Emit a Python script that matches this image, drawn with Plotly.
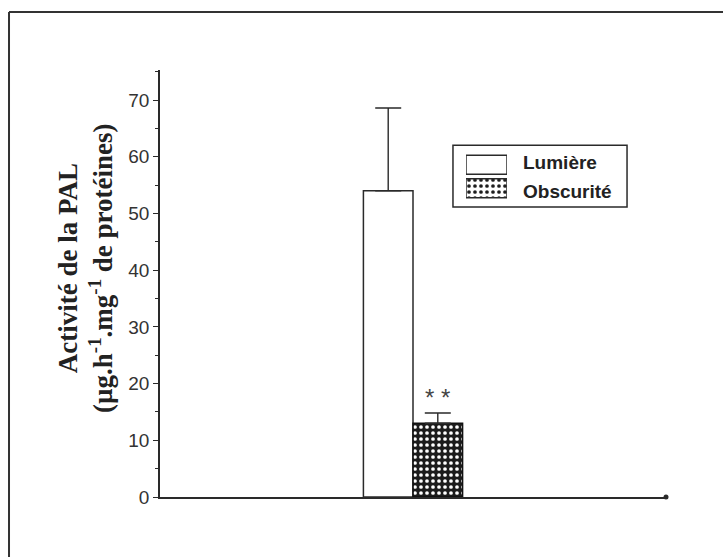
import plotly.graph_objects as go

# --- data -------------------------------------------------------------
groupe = ["PAL"]
series = ["Lumière", "Obscurité"]
activite = [54.0, 13.0]          # µg.h-1.mg-1 de protéines
erreur = [14.6, 1.8]             # écart (barre vers le haut)
signif = ["", "* *"]
y_ticks = [0, 10, 20, 30, 40, 50, 60, 70]

# --- styles -----------------------------------------------------------
INK = "#2a2a2a"
BARGAP = 0.804
SANS = "Liberation Sans, Arial, sans-serif"
SERIF = "Liberation Serif, Times New Roman, serif"
DOTS = dict(shape=".", bgcolor="#1c1c1c", fgcolor="white",
            size=6, solidity=0.3, fillmode="replace")

fig = go.Figure()

fills = [
    dict(color="white", line=dict(color=INK, width=1.5)),
    dict(color="#1c1c1c", line=dict(color="#111", width=1.5), pattern=DOTS),
]

for name, val, err, mk in zip(series, activite, erreur, fills):
    fig.add_trace(go.Bar(
        x=groupe, y=[val], name=name, marker=mk, showlegend=False,
        error_y=dict(type="data", array=[err], arrayminus=[0],
                     symmetric=False, color=INK, thickness=1.4, width=13),
    ))

# significance marks above each bar (group offset derived from bargap)
slot = (1 - BARGAP) / len(series)
for i, (val, err, txt) in enumerate(zip(activite, erreur, signif)):
    if not txt:
        continue
    xc = -(1 - BARGAP) / 2 + slot * (i + 0.5)
    fig.add_annotation(x=xc, y=val + err, xref="x", yref="y", text=txt,
                       showarrow=False, yanchor="bottom", yshift=0,
                       font=dict(family=SANS, size=24, color="#444"))

# legend key swatches in a small inset axis
fig.add_trace(go.Bar(
    x=[1, 1], y=series, orientation="h", width=0.8,
    xaxis="x2", yaxis="y2", showlegend=False, hoverinfo="skip",
    marker=dict(
        color=["white", "#1c1c1c"],
        line=dict(color=INK, width=1.5),
        pattern=dict(shape=["", "."], bgcolor=["white", "#1c1c1c"],
                     fgcolor=["white", "white"], size=6, solidity=0.3,
                     fillmode="replace"),
    ),
))

# legend frame
fig.add_shape(type="rect", xref="paper", yref="paper",
              x0=0.579, x1=0.923, y0=0.679, y1=0.824,
              line=dict(color=INK, width=1.5), fillcolor="rgba(0,0,0,0)")
for name, yp in zip(series, [0.783, 0.715]):
    fig.add_annotation(x=0.713, y=yp, xref="paper", yref="paper", text=name,
                       showarrow=False, xanchor="left", yanchor="middle",
                       font=dict(family=SANS, size=19, color="#222",
                                 weight="bold"))

# y-axis title (two lines, rotated)
fig.add_annotation(
    x=-0.1463, y=0.5363, xref="paper", yref="paper", textangle=-90,
    text="Activité de la PAL<br>(µg.h<sup>-1</sup>.mg<sup>-1</sup> de protéines)",
    showarrow=False, xanchor="center", yanchor="middle",
    font=dict(family=SERIF, size=27, color="#222", weight="bold"),
)

# outer frame: top and left rules
fig.add_shape(type="line", xref="paper", yref="paper",
              x0=-0.2984, x1=1.2, y0=1.1358, y1=1.1358,
              line=dict(color="#333", width=2), layer="below")
fig.add_shape(type="line", xref="paper", yref="paper",
              x0=-0.2984, x1=-0.2984, y0=-0.25, y1=1.1358,
              line=dict(color="#333", width=2), layer="below")

# small end dot on the x axis
fig.add_shape(type="circle", xref="paper", yref="paper",
              xsizemode="pixel", ysizemode="pixel", xanchor=1, yanchor=0,
              x0=-2.5, x1=2.5, y0=-2.5, y1=2.5,
              fillcolor=INK, line=dict(width=0))

fig.update_layout(
    width=723, height=557,
    margin=dict(l=160, r=57, t=70, b=60),
    paper_bgcolor="white", plot_bgcolor="white",
    barmode="group", bargap=BARGAP,
    showlegend=False,
    xaxis=dict(type="category", range=[-0.5, 0.5], showticklabels=False,
               ticks="", showline=True, linecolor=INK, linewidth=2,
               showgrid=False, zeroline=False, fixedrange=True),
    yaxis=dict(range=[0, 75.3], tickvals=y_ticks, ticks="outside",
               ticklen=5, tickwidth=1.2, tickcolor=INK,
               showline=True, linecolor=INK, linewidth=1.5,
               showgrid=False, zeroline=False,
               tickfont=dict(family=SANS, size=19, color="#333"),
               minor=dict(dtick=5, tick0=0, ticks="outside", ticklen=3,
                          tickcolor=INK, showgrid=False)),
    xaxis2=dict(domain=[0.6047, 0.6858], range=[0, 1], visible=False,
                anchor="y2", fixedrange=True),
    yaxis2=dict(domain=[0.6956, 0.8056], type="category",
                categoryorder="array", categoryarray=series,
                autorange="reversed", visible=False, anchor="x2",
                fixedrange=True),
)

fig.write_html("out.html")
